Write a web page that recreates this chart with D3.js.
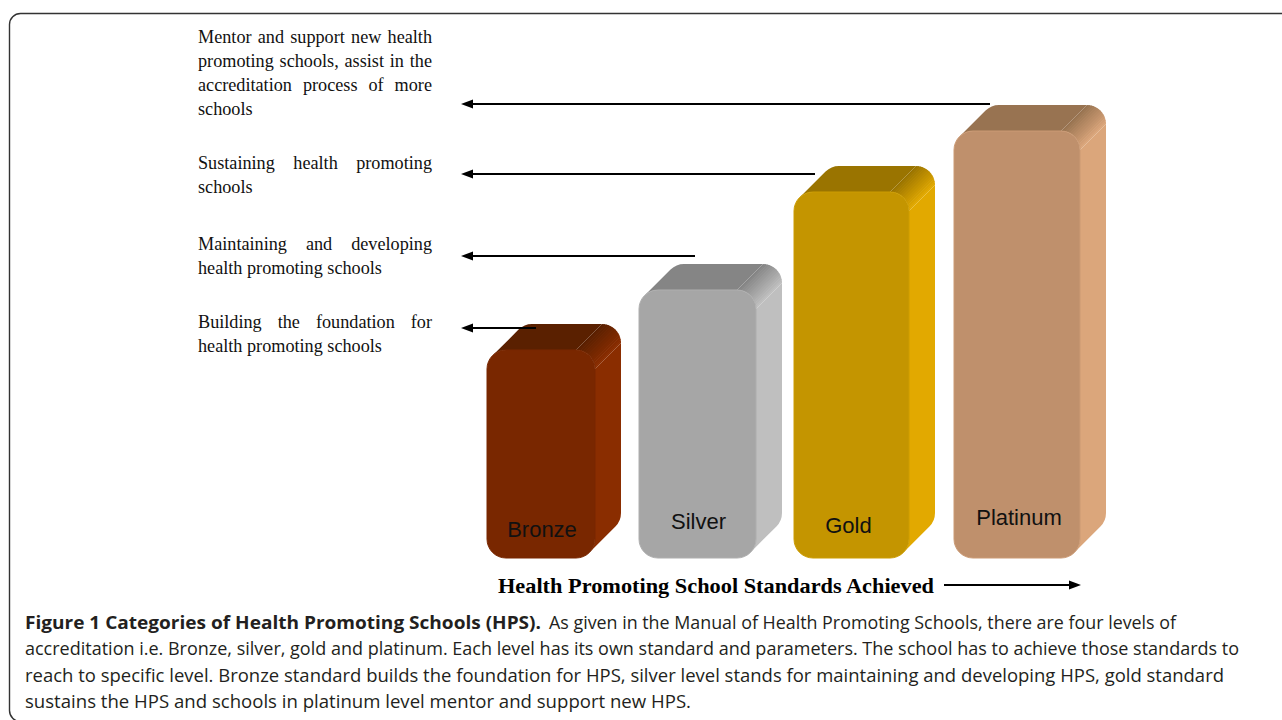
<!DOCTYPE html>
<html>
<head>
<meta charset="utf-8">
<script src="https://d3js.org/d3.v7.min.js"></script>
<style>
	html, body { margin: 0; padding: 0; background: #fff; overflow: hidden; }
	svg { display: block; }
</style>
</head>
<body>
<svg id="chart" width="1282" height="720"></svg>
<script>
// values
var levels = ["Bronze", "Silver", "Gold", "Platinum"];
var levelStart = [0, 152, 307, 467];
var levelWidth = [108, 117, 115, 126];
var levelHeight = [208, 268, 366, 427];
var frontColors = ["#792700", "#a6a6a6", "#c49500", "#bf906c"];
var topColors = ["#5a2000", "#858585", "#9a7400", "#987351"];
var sideColors = ["#8a2d00", "#bfbfbf", "#e2a900", "#dba67b"];
var edgeColors = ["#792700", "#aeaeae", "#cc9c00", "#cb9a74"];

var standards = [
	["Building the foundation for", "health promoting schools"],
	["Maintaining and developing", "health promoting schools"],
	["Sustaining health promoting", "schools"],
	["Mentor and support new health", "promoting schools, assist in the", "accreditation process of more", "schools"]
];
var standardBaselines = [327.5, 249.5, 168.5, 42.5];
var arrowY = [328, 256, 174, 104];
var arrowFrom = [49, 208, 328, 503];

var axisTitle = "Health Promoting School Standards Achieved";

var captionBold = "Figure 1 Categories of Health Promoting Schools (HPS).";
var captionLines = [
	" As given in the Manual of Health Promoting Schools, there are four levels of",
	"accreditation i.e. Bronze, silver, gold and platinum. Each level has its own standard and parameters. The school has to achieve those standards to",
	"reach to specific level. Bronze standard builds the foundation for HPS, silver level stands for maintaining and developing HPS, gold standard",
	"sustains the HPS and schools in platinum level mentor and support new HPS."
];

var PLOT_LEFT = 487,
	PLOT_BOTTOM = 558,
	PLOT_TOP = 131,
	DEPTH = 26,
	RADIUS = 19,
	LINE_HEIGHT = 24,
	TEXT_LEFT = 198,
	TEXT_RIGHT = 432,
	ARROW_END = 461,
	labelLift = [21, 29, 25, 33];

var svg = d3.select("#chart");

var x = d3.scaleLinear().domain([0, 618]).range([PLOT_LEFT, PLOT_LEFT + 618]);
var y = d3.scaleLinear().domain([0, 427]).range([PLOT_BOTTOM, PLOT_TOP]);

var defs = svg.append("defs");
defs.append("marker")
	.attr("id", "head")
	.attr("markerUnits", "userSpaceOnUse")
	.attr("viewBox", "0 0 12 10")
	.attr("refX", 0)
	.attr("refY", 5)
	.attr("markerWidth", 12)
	.attr("markerHeight", 10)
	.attr("orient", "auto-start-reverse")
	.append("path")
	.attr("d", "M12 5L0 0.5V9.5z")
	.attr("fill", "#000");

// frame round the figure, runs off the right and bottom of the page
svg.append("rect")
	.attr("x", 9.5)
	.attr("y", 13.5)
	.attr("width", 1400)
	.attr("height", 708)
	.attr("rx", 11)
	.attr("fill", "none")
	.attr("stroke", "#333")
	.attr("stroke-width", 1.4);

var bars = levels.map(function(name, i) {
	return {
		name: name,
		index: i,
		x0: x(levelStart[i]),
		x1: x(levelStart[i] + levelWidth[i]),
		y0: y(levelHeight[i]),
		y1: y(0)
	};
});

var K = RADIUS * (1 - Math.SQRT1_2);

function topPath(b) {
	return "M" + (b.x0 + K) + " " + (b.y0 + K)
		+ "l" + DEPTH + " " + (-DEPTH)
		+ "A" + RADIUS + " " + RADIUS + " 0 0 1 " + (b.x0 + RADIUS + DEPTH) + " " + (b.y0 - DEPTH)
		+ "H" + (b.x1 - RADIUS + DEPTH)
		+ "l" + (-DEPTH) + " " + DEPTH
		+ "H" + (b.x0 + RADIUS)
		+ "A" + RADIUS + " " + RADIUS + " 0 0 0 " + (b.x0 + K) + " " + (b.y0 + K)
		+ "z";
}

function sidePath(b) {
	return "M" + b.x1 + " " + (b.y0 + RADIUS)
		+ "l" + DEPTH + " " + (-DEPTH)
		+ "V" + (b.y1 - RADIUS - DEPTH)
		+ "A" + RADIUS + " " + RADIUS + " 0 0 1 " + (b.x1 + DEPTH - K) + " " + (b.y1 - K - DEPTH)
		+ "l" + (-DEPTH) + " " + DEPTH
		+ "A" + RADIUS + " " + RADIUS + " 0 0 0 " + b.x1 + " " + (b.y1 - RADIUS)
		+ "z";
}

// quads swept along the top right corner, blending top colour into side colour
function cornerSteps(b) {
	var cx = b.x1 - RADIUS,
		cy = b.y0 + RADIUS,
		mix = d3.interpolateRgb(topColors[b.index], sideColors[b.index]);
	return d3.range(14).map(function(k) {
		var a0 = k / 14 * Math.PI / 2,
			a1 = (k + 1.3) / 14 * Math.PI / 2,
			p0 = [cx + RADIUS * Math.sin(a0), cy - RADIUS * Math.cos(a0)],
			p1 = [cx + RADIUS * Math.sin(Math.min(a1, Math.PI / 2)), cy - RADIUS * Math.cos(Math.min(a1, Math.PI / 2))];
		return {
			color: mix(k / 13),
			d: "M" + p0 + "L" + [p0[0] + DEPTH, p0[1] - DEPTH] + "L" + [p1[0] + DEPTH, p1[1] - DEPTH] + "L" + p1 + "z"
		};
	});
}

var bar = svg.selectAll(".bar")
	.data(bars)
	.enter()
	.append("g")
	.attr("class", "bar");

bar.append("path")
	.attr("d", topPath)
	.attr("fill", function(d) { return topColors[d.index]; });

bar.append("path")
	.attr("d", sidePath)
	.attr("fill", function(d) { return sideColors[d.index]; });

bar.selectAll(".corner")
	.data(cornerSteps)
	.enter()
	.append("path")
	.attr("class", "corner")
	.attr("d", function(d) { return d.d; })
	.attr("fill", function(d) { return d.color; });

bar.append("rect")
	.attr("x", function(d) { return d.x0; })
	.attr("y", function(d) { return d.y0; })
	.attr("width", function(d) { return d.x1 - d.x0; })
	.attr("height", function(d) { return d.y1 - d.y0; })
	.attr("rx", RADIUS)
	.attr("fill", function(d) { return frontColors[d.index]; })
	.attr("stroke", function(d) { return edgeColors[d.index]; })
	.attr("stroke-width", 1);

bar.append("text")
	.attr("x", function(d) { return (d.x0 + d.x1) / 2 + (d.index == 2 ? -3 : d.index == 3 ? 2 : 1); })
	.attr("y", function(d) { return d.y1 - labelLift[d.index]; })
	.attr("text-anchor", "middle")
	.attr("font-family", "'Liberation Sans', sans-serif")
	.attr("font-size", 22)
	.attr("fill", "#111")
	.text(function(d) { return d.name; });

// arrows from the bars back to the standard they stand for
svg.selectAll(".standard-arrow")
	.data(arrowY)
	.enter()
	.append("line")
	.attr("class", "standard-arrow")
	.attr("x1", function(d, i) { return x(arrowFrom[i]); })
	.attr("x2", ARROW_END + 12)
	.attr("y1", function(d) { return d; })
	.attr("y2", function(d) { return d; })
	.attr("stroke", "#000")
	.attr("stroke-width", 2)
	.attr("marker-end", "url(#head)");

// justified text blocks at the left
standards.forEach(function(lines, s) {
	lines.forEach(function(line, i) {
		var t = svg.append("text")
			.attr("x", TEXT_LEFT)
			.attr("y", standardBaselines[s] + i * LINE_HEIGHT)
			.attr("font-family", "'Liberation Serif', serif")
			.attr("font-size", 18.2)
			.attr("fill", "#111")
			.text(line);
		if (i < lines.length - 1) {
			var gaps = line.split(" ").length - 1;
			t.attr("word-spacing", (TEXT_RIGHT - TEXT_LEFT - t.node().getComputedTextLength()) / gaps);
		}
	});
});

svg.append("text")
	.attr("x", 498)
	.attr("y", 593)
	.attr("font-family", "'Liberation Serif', serif")
	.attr("font-weight", "bold")
	.attr("font-size", 21)
	.attr("textLength", 436)
	.attr("lengthAdjust", "spacingAndGlyphs")
	.attr("fill", "#000")
	.text(axisTitle);

svg.append("line")
	.attr("x1", 944)
	.attr("x2", 1069)
	.attr("y1", 585)
	.attr("y2", 585)
	.attr("stroke", "#000")
	.attr("stroke-width", 2)
	.attr("marker-end", "url(#head)");

// caption
var captionBase = [629, 655, 682, 708],
	captionEnd = [1176, 1239, 1224, 691],
	captionFont = "'Open Sans', 'Noto Sans', sans-serif",
	captionColor = "#231f20";

svg.append("text")
	.attr("x", 25)
	.attr("y", captionBase[0])
	.attr("font-family", captionFont)
	.attr("font-weight", "bold")
	.attr("font-size", 18)
	.attr("textLength", 516)
	.attr("lengthAdjust", "spacingAndGlyphs")
	.attr("fill", captionColor)
	.text(captionBold);

captionLines.forEach(function(line, i) {
	var left = i ? 25 : 549;
	svg.append("text")
		.attr("x", left)
		.attr("y", captionBase[i])
		.attr("font-family", captionFont)
		.attr("font-size", 18)
		.attr("textLength", captionEnd[i] - left)
		.attr("lengthAdjust", "spacingAndGlyphs")
		.attr("fill", captionColor)
		.text(line.trim());
});
</script>
</body>
</html>
